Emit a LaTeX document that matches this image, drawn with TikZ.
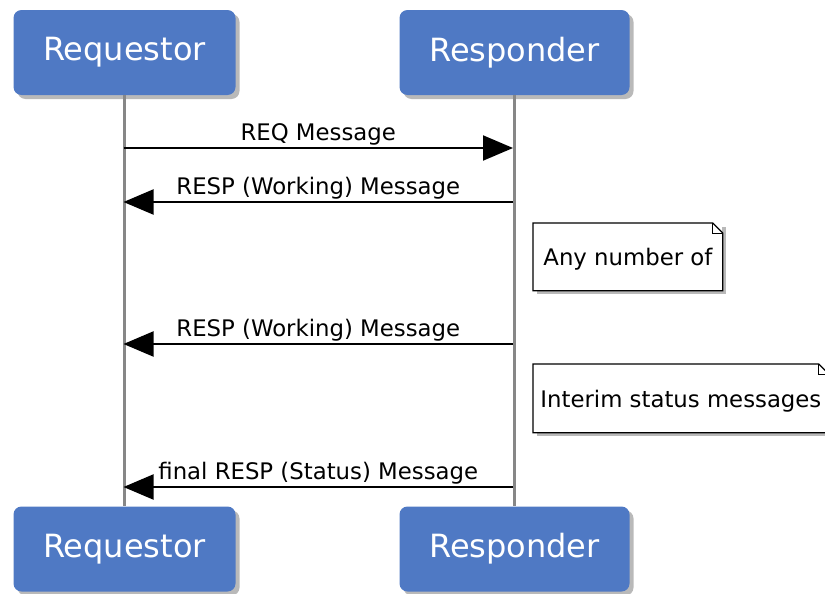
\documentclass[tikz,border=0pt]{standalone}
\usepackage{fontspec}
\setmainfont{DejaVu Sans}
\usetikzlibrary{arrows.meta,shadows}
\definecolor{actorblue}{RGB}{79,121,196}
\definecolor{lifegray}{RGB}{135,135,135}

\begin{document}
\begin{tikzpicture}[x=0.5pt,y=-0.5pt,
  actor/.style={fill=actorblue, rounded corners=4pt, minimum height=42.5pt,
    text=white, font=\fontsize{16}{19}\selectfont,
    drop shadow={shadow xshift=2pt, shadow yshift=-2pt, opacity=0.55}},
  lifeline/.style={lifegray, line width=1.3pt},
  msg/.style={line width=1pt, -{Triangle[length=15pt,width=12.5pt]}},
  msglabel/.style={midway, above, inner sep=1pt, font=\fontsize{11.4}{13}\selectfont},
  notebox/.style={fill=white, anchor=north west, inner sep=0pt,
    font=\fontsize{11.4}{13}\selectfont,
    drop shadow={shadow xshift=2pt, shadow yshift=-2pt, opacity=0.55}}]
\useasboundingbox (0,0) rectangle (825,594);
\clip (0,0) rectangle (825,594);
\def\fold{5pt}; % size of the dog-ear on the notes

% actors, top and bottom
\node[actor, minimum width=111pt] (reqtop) at (124.5,52.5) {Requestor};
\node[actor, minimum width=115pt] (resptop) at (514.5,52.5) {Responder};
\node[actor, minimum width=111pt] (reqbot) at (124.5,549) {Requestor};
\node[actor, minimum width=115pt] (respbot) at (514.5,549) {Responder};

% lifelines
\draw[lifeline] (reqtop.south) -- (reqbot.north);
\draw[lifeline] (resptop.south) -- (respbot.north);

% message ends on the lifelines
\coordinate (m1l) at (123.5,148);  \coordinate (m1r) at (513,148);
\coordinate (m2l) at (123.5,202);  \coordinate (m2r) at (513,202);
\coordinate (m3l) at (123.5,344);  \coordinate (m3r) at (513,344);
\coordinate (m4l) at (123.5,487);  \coordinate (m4r) at (513,487);

\draw[msg] (m1l) -- (m1r) node[msglabel] {REQ Message};
\draw[msg] (m2r) -- (m2l) node[msglabel] {RESP (Working) Message};
\draw[msg] (m3r) -- (m3l) node[msglabel] {RESP (Working) Message};
\draw[msg] (m4r) -- (m4l) node[msglabel] {final RESP (Status) Message};

% notes
\node[notebox, minimum width=94.5pt, minimum height=33.5pt, text depth=-3pt]
  (note1) at (533,223) {Any number of};
\node[notebox, minimum width=147.5pt, minimum height=34pt, text depth=-3pt]
  (note2) at (533,364) {Interim status messages};
\foreach \n in {note1,note2} {
  \draw[line width=0.6pt] (\n.north west) -- ([xshift=-\fold]\n.north east)
    -- ([yshift=-\fold]\n.north east) -- (\n.south east) -- (\n.south west) -- cycle;
  \draw[line width=0.4pt] ([xshift=-\fold]\n.north east) |- ([yshift=-\fold]\n.north east);
}
\end{tikzpicture}
\end{document}
